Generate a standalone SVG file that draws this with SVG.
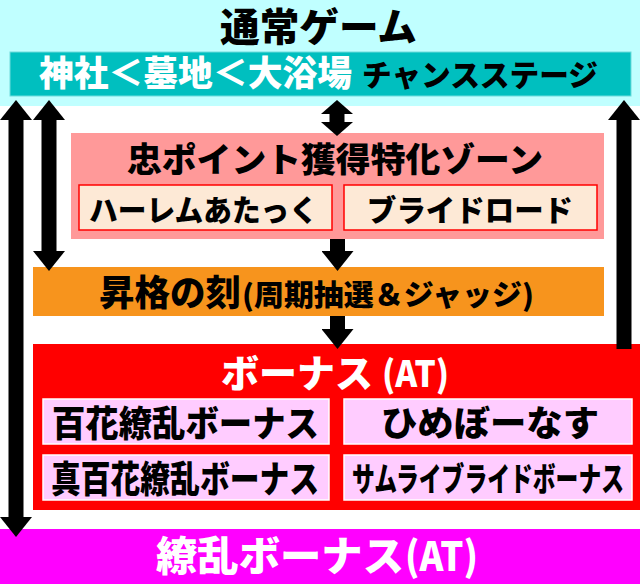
<svg xmlns="http://www.w3.org/2000/svg" width="640" height="584" viewBox="0 0 640 584">
<style>
.t{font-family:"Noto Sans CJK JP","Noto Sans",sans-serif;font-weight:900;}
.k{fill:#000;}
.w{fill:#fff;}
.peach{fill:#FDE9D6;stroke:#FF0000;stroke-width:1.5;}
.lilac{fill:#FFCCFF;stroke:#FFFFFF;stroke-width:1.5;}
.arr{stroke:#000;stroke-width:15;fill:none;}
</style>
<defs>
<marker id="h" markerUnits="userSpaceOnUse" markerWidth="20" markerHeight="32" viewBox="0 0 20 32" refX="1" refY="16" orient="auto-start-reverse"><path d="M0,0 L20,16 L0,32 Z" fill="#000"/></marker>
<marker id="hs" markerUnits="userSpaceOnUse" markerWidth="14" markerHeight="32" viewBox="0 0 14 32" refX="1" refY="16" orient="auto-start-reverse"><path d="M0,0 L14,16 L0,32 Z" fill="#000"/></marker>
</defs>
<rect width="640" height="584" fill="#fff"/>
<g id="normal-game">
<rect x="0" y="0" width="640" height="106" fill="#C0FFFF"/>
<text class="t k" x="220" y="41" font-size="39" textLength="197" lengthAdjust="spacingAndGlyphs">通常ゲーム</text>
</g>
<g id="chance-stage">
<rect x="10" y="52" width="621" height="44" fill="#00BFBF" stroke="#6FDCDC" stroke-width="1"/>
<text class="t w" x="39" y="86" font-size="35" textLength="313" lengthAdjust="spacingAndGlyphs">神社＜墓地＜大浴場</text>
<text class="t k" x="362" y="86" font-size="30" textLength="236" lengthAdjust="spacingAndGlyphs">チャンスステージ</text>
</g>
<g id="chu-point-zone">
<rect x="71" y="133" width="533" height="106" fill="#FF9999"/>
<text class="t k" x="127" y="172" font-size="34" textLength="416" lengthAdjust="spacingAndGlyphs">忠ポイント獲得特化ゾーン</text>
</g>
<g id="harem-attack">
<rect class="peach" x="79" y="185" width="253" height="45"/>
<text class="t k" x="89" y="221" font-size="30" textLength="229" lengthAdjust="spacingAndGlyphs">ハーレムあたっく</text>
</g>
<g id="bride-road">
<rect class="peach" x="344" y="185" width="253" height="45"/>
<text class="t k" x="367" y="221" font-size="30" textLength="206" lengthAdjust="spacingAndGlyphs">ブライドロード</text>
</g>
<g id="shokaku">
<rect x="33" y="267" width="571" height="49" fill="#F7941D"/>
<text class="t k" x="99" y="306" font-size="36" textLength="142" lengthAdjust="spacingAndGlyphs">昇格の刻</text>
<text class="t k" x="242" y="306" font-size="29" textLength="292" lengthAdjust="spacingAndGlyphs">(周期抽選＆ジャッジ)</text>
</g>
<g id="bonus-at">
<rect x="33" y="344" width="607" height="166" fill="#FF0000"/>
<text class="t w" x="221" y="387" font-size="38" textLength="152" lengthAdjust="spacingAndGlyphs">ボーナス</text>
<text class="t w" x="382" y="387" font-size="36" textLength="67" lengthAdjust="spacingAndGlyphs">(AT)</text>
</g>
<g id="hyakka-bonus">
<rect class="lilac" x="43" y="399" width="286" height="45"/>
<text class="t k" x="52" y="437" font-size="36" textLength="267" lengthAdjust="spacingAndGlyphs">百花繚乱ボーナス</text>
</g>
<g id="himebonus">
<rect class="lilac" x="344" y="399" width="288" height="45"/>
<text class="t k" x="381" y="436" font-size="35" textLength="218" lengthAdjust="spacingAndGlyphs">ひめぼーなす</text>
</g>
<g id="shin-hyakka-bonus">
<rect class="lilac" x="43" y="455" width="286" height="45"/>
<text class="t k" x="51" y="493" font-size="37" textLength="268" lengthAdjust="spacingAndGlyphs">真百花繚乱ボーナス</text>
</g>
<g id="samurai-bride-bonus">
<rect class="lilac" x="344" y="455" width="288" height="45"/>
<text class="t k" x="352" y="491" font-size="33" textLength="272" lengthAdjust="spacingAndGlyphs">サムライブライドボーナス</text>
</g>
<g id="ryoran-bonus">
<rect x="0" y="529" width="640" height="55" fill="#FF00FF"/>
<text class="t w" x="156" y="571" font-size="41" textLength="248" lengthAdjust="spacingAndGlyphs">繚乱ボーナス</text>
<text class="t w" x="405" y="571" font-size="40" textLength="73" lengthAdjust="spacingAndGlyphs">(AT)</text>
</g>
<g id="connectors">
<line class="arr" x1="16" y1="119" x2="16" y2="518" marker-start="url(#h)" marker-end="url(#h)"/>
<line class="arr" x1="49" y1="119" x2="49" y2="252" marker-start="url(#h)" marker-end="url(#h)"/>
<line class="arr" x1="337" y1="113" x2="337" y2="123" marker-start="url(#hs)" marker-end="url(#hs)"/>
<line class="arr" x1="337.5" y1="239" x2="337.5" y2="252" marker-end="url(#h)"/>
<line class="arr" x1="337.5" y1="316" x2="337.5" y2="330" marker-end="url(#h)"/>
<line class="arr" x1="624" y1="349" x2="624" y2="119" marker-end="url(#h)"/>
</g>
</svg>
